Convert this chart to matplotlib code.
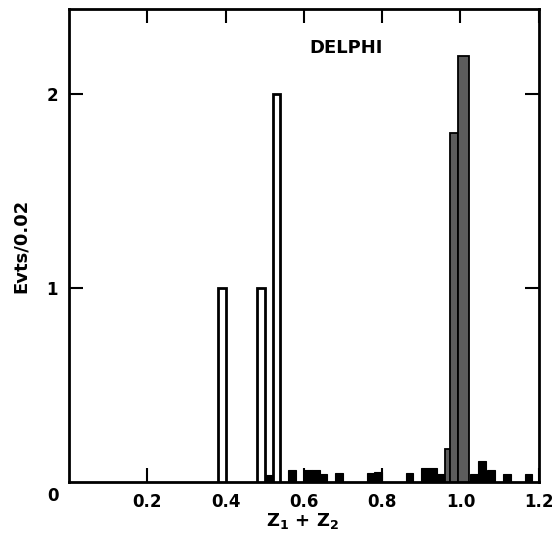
import matplotlib.pyplot as plt

plt.rcParams['font.family'] = ['Liberation Sans Narrow', 'DejaVu Sans']

# open histogram (signal candidates)
open_left = [0.38, 0.48, 0.52]
open_height = [1, 1, 2]

# small black bars along the bottom
black_left = [0.50, 0.56, 0.60, 0.62, 0.64, 0.68, 0.76, 0.78, 0.86, 0.90, 0.92, 0.94,
              1.024, 1.044, 1.068, 1.108, 1.164]
black_height = [0.035, 0.06, 0.06, 0.06, 0.04, 0.045, 0.045, 0.05, 0.045, 0.07, 0.07, 0.04,
                0.04, 0.11, 0.06, 0.04, 0.04]

# shaded peak near 1.0
shade_left = [0.96, 0.973, 0.993]
shade_width = [0.013, 0.02, 0.03]
shade_height = [0.17, 1.8, 2.2]

fig = plt.figure(figsize=(5.52, 5.37), dpi=100)
ax = fig.add_axes([0.125, 0.1024, 0.851, 0.8806])

ax.bar(black_left, black_height, width=0.02, align='edge', color='black',
       edgecolor='black', linewidth=0.8, zorder=2)
ax.bar(shade_left, shade_height, width=shade_width, align='edge', color='#5c5c5c',
       edgecolor='black', linewidth=1.3, zorder=3)
ax.bar(open_left, open_height, width=0.02, align='edge', color='white',
       edgecolor='black', linewidth=2, zorder=3)

ax.set_xlim(0, 1.2)
ax.set_ylim(0, 2.44)

for s in ax.spines.values():
    s.set_linewidth(2)

ax.set_xticks([0.2, 0.4, 0.6, 0.8, 1.0, 1.2])
ax.set_xticklabels(['0.2', '0.4', '0.6', '0.8', '1.0', '1.2'])
ax.set_yticks([1, 2])
ax.set_yticklabels(['1', '2'])
ax.tick_params(direction='in', length=10, width=1.5, top=True, right=True,
               labelsize=12, pad=8)
for lab in ax.get_xticklabels() + ax.get_yticklabels():
    lab.set_fontweight('bold')

ax.text(-0.04, -0.07, '0', fontsize=12, fontweight='bold', ha='center', va='center',
        transform=ax.transData, clip_on=False)

fig.text(303 / 552, 1 - 521 / 537, 'Z$_\\mathbf{1}$ + Z$_\\mathbf{2}$', fontsize=13,
         fontweight='bold', ha='center', va='center')
ax.set_ylabel('Evts/0.02', fontsize=13, fontweight='bold', labelpad=12)

ax.text(0.707, 2.24, 'DELPHI', fontsize=13, fontweight='bold', ha='center', va='center')

fig.savefig('out.png', dpi=100)
